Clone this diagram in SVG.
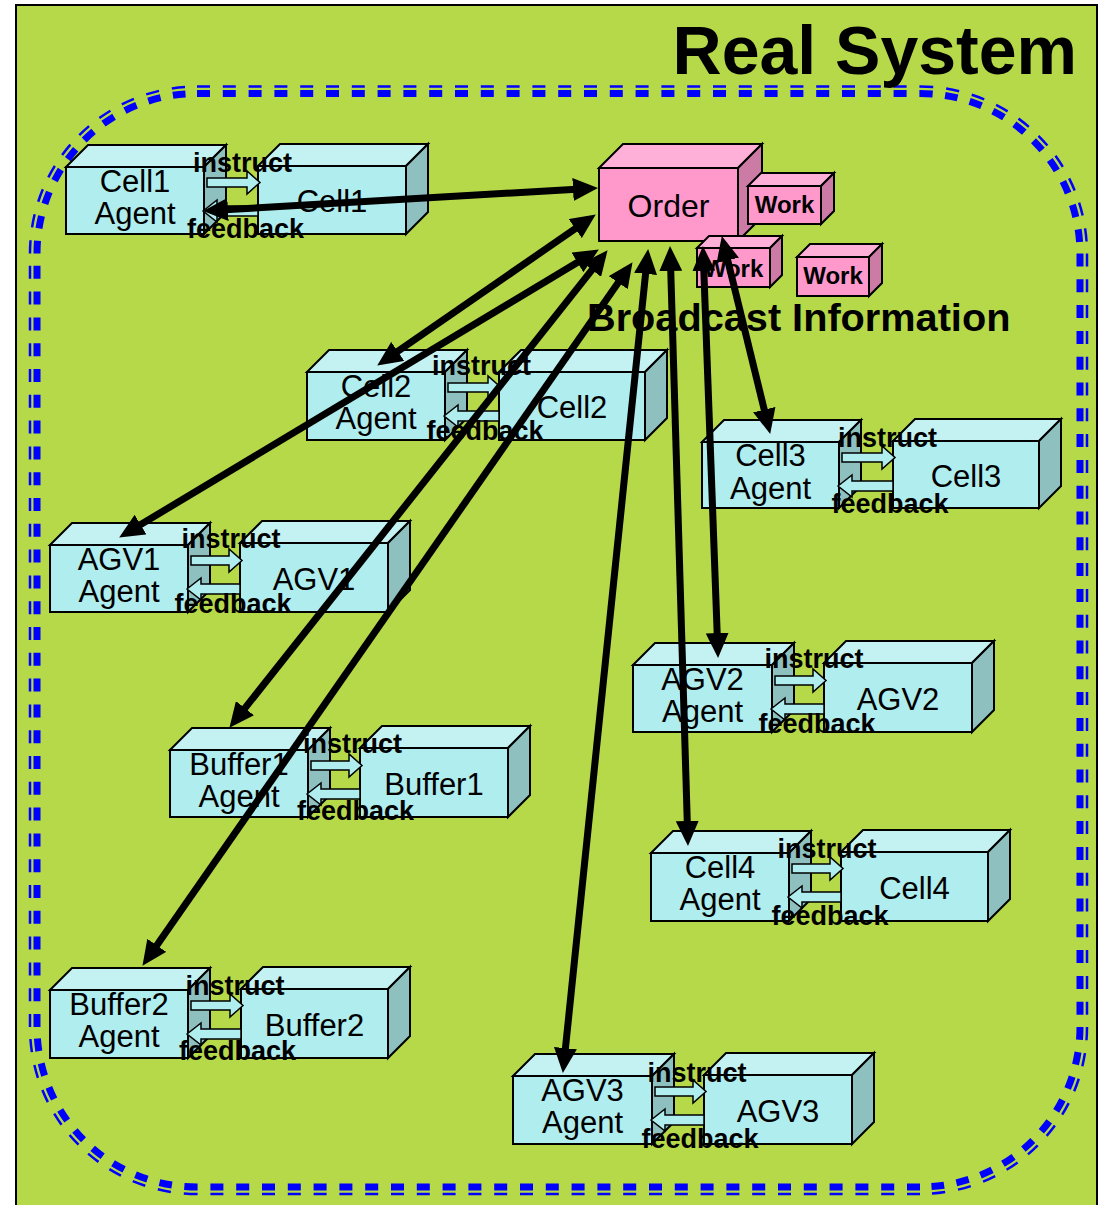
<svg xmlns="http://www.w3.org/2000/svg" width="1104" height="1205" viewBox="0 0 1104 1205">
<style>
.bg{fill:#B6D94A;stroke:#000;stroke-width:2}
.dk{fill:none;stroke:#0000FF;stroke-width:7;stroke-dasharray:13 12.8}
.dn{fill:none;stroke:#0000FF;stroke-width:2.5;stroke-dasharray:13 12.8}
.f{fill:#AFEDEE;stroke:#000;stroke-width:2}
.t{fill:#C4F2F3;stroke:#000;stroke-width:2}
.s{fill:#8EC0BF;stroke:#000;stroke-width:2}
.pf{fill:#FF99CC;stroke:#000;stroke-width:2}
.pt{fill:#FFB0D8;stroke:#000;stroke-width:2}
.ps{fill:#CC7BA4;stroke:#000;stroke-width:2}
.sa{fill:#AFEDEE;stroke:#000;stroke-width:1.5}
text{font-family:"Liberation Sans",Arial,sans-serif;fill:#000}
.lb{font-size:31px;text-anchor:middle}
.io{font-size:27px;font-weight:bold;text-anchor:middle}
.wk{font-size:24px;font-weight:bold;text-anchor:middle}
.conn{fill:none;stroke:#000;stroke-width:7;marker-start:url(#ah);marker-end:url(#ah)}
</style>
<defs>
<marker id="ah" viewBox="0 0 25 23" refX="12" refY="11.5" markerWidth="25" markerHeight="23" markerUnits="userSpaceOnUse" orient="auto-start-reverse">
<path d="M0,0 L25,11.5 L0,23 z" fill="#000"/>
</marker>
</defs>
<rect x="0" y="0" width="1104" height="1205" fill="#fff"/>
<rect class="bg" x="16" y="5" width="1081" height="1215"/>
<g id="boundary">
<path class="dk" d="M197,93.5 L920,93.5"/>
<path class="dk" d="M920,93.5 A160,160 0 0 1 1080,253.5" pathLength="257"/>
<path class="dk" d="M1080,253.5 L1080,1027"/>
<path class="dk" d="M1080,1027 A160,160 0 0 1 920,1187" pathLength="257"/>
<path class="dk" d="M920,1187 L197,1187"/>
<path class="dk" d="M197,1187 A160,160 0 0 1 37,1027" pathLength="257"/>
<path class="dk" d="M37,1027 L37,253.5"/>
<path class="dk" d="M37,253.5 A160,160 0 0 1 197,93.5" pathLength="257"/>
<path class="dn" d="M197,86.5 L920,86.5"/>
<path class="dn" d="M920,86.5 A167,167 0 0 1 1087,253.5" pathLength="257"/>
<path class="dn" d="M1087,253.5 L1087,1027"/>
<path class="dn" d="M1087,1027 A167,167 0 0 1 920,1194" pathLength="257"/>
<path class="dn" d="M920,1194 L197,1194"/>
<path class="dn" d="M197,1194 A167,167 0 0 1 30,1027" pathLength="257"/>
<path class="dn" d="M30,1027 L30,253.5"/>
<path class="dn" d="M30,253.5 A167,167 0 0 1 197,86.5" pathLength="257"/>
</g>
<text x="1077" y="74" style="font-size:68px;font-weight:bold;text-anchor:end">Real System</text>

<g id="order">
<polygon class="pt" points="599,168 623,144 762,144 738,168"/>
<polygon class="ps" points="738,168 762,144 762,217 738,241"/>
<rect class="pf" x="599" y="168" width="139" height="73"/>
<text class="lb" x="668.5" y="217" style="font-size:32px">Order</text>
</g>
<g id="work1">
<polygon class="pt" points="748,186 761,173 834,173 821,186"/>
<polygon class="ps" points="821,186 834,173 834,211 821,224"/>
<rect class="pf" x="748" y="186" width="73" height="38"/>
<text class="wk" x="784.5" y="213">Work</text>
</g>
<g id="work2">
<polygon class="pt" points="697,248 709,236 782,236 770,248"/>
<polygon class="ps" points="770,248 782,236 782,275 770,287"/>
<rect class="pf" x="697" y="248" width="73" height="39"/>
<text class="wk" x="733.5" y="277">Work</text>
</g>
<g id="work3">
<polygon class="pt" points="797,257 810,244 882,244 869,257"/>
<polygon class="ps" points="869,257 882,244 882,283 869,296"/>
<rect class="pf" x="797" y="257" width="72" height="39"/>
<text class="wk" x="833" y="284">Work</text>
</g>
<text x="587" y="331" style="font-size:39.7px;font-weight:bold">Broadcast Information</text>

<!-- Cell1 -->
<g id="cell1-agent">
<polygon class="t" points="66,167 88,145 226,145 204,167"/>
<polygon class="s" points="204,167 226,145 226,212 204,234"/>
<rect class="f" x="66" y="167" width="138" height="67"/>
<text class="lb" x="135" y="192">Cell1</text>
<text class="lb" x="135" y="224">Agent</text>
</g>
<g id="cell1">
<polygon class="t" points="258,166 280,144 428,144 406,166"/>
<polygon class="s" points="406,166 428,144 428,212 406,234"/>
<rect class="f" x="258" y="166" width="148" height="68"/>
<text class="lb" x="332" y="212">Cell1</text>
</g>
<g id="cell1-io">
<polygon class="sa" points="207,178 247,178 247,171 260,182.5 247,194 247,187 207,187"/>
<polygon class="sa" points="203,211 217,200 217,206 258,206 258,216 217,216 217,222"/>
<text class="io" x="242.5" y="172">instruct</text>
<text class="io" x="245.5" y="238">feedback</text>
</g>

<!-- Cell2 -->
<g id="cell2-agent">
<polygon class="t" points="307,372 329,350 467,350 445,372"/>
<polygon class="s" points="445,372 467,350 467,418 445,440"/>
<rect class="f" x="307" y="372" width="138" height="68"/>
<text class="lb" x="376" y="397">Cell2</text>
<text class="lb" x="376" y="429">Agent</text>
</g>
<g id="cell2">
<polygon class="t" points="499,372 521,350 667,350 645,372"/>
<polygon class="s" points="645,372 667,350 667,418 645,440"/>
<rect class="f" x="499" y="372" width="146" height="68"/>
<text class="lb" x="572" y="418">Cell2</text>
</g>
<g id="cell2-io">
<polygon class="sa" points="448,383 488,383 488,376 501,387.5 488,399 488,392 448,392"/>
<polygon class="sa" points="444,416 458,405 458,411 499,411 499,421 458,421 458,427"/>
<text class="io" x="481.5" y="375">instruct</text>
<text class="io" x="485" y="440">feedback</text>
</g>

<!-- Cell3 -->
<g id="cell3-agent">
<polygon class="t" points="702,442 724,420 861,420 839,442"/>
<polygon class="s" points="839,442 861,420 861,486 839,508"/>
<rect class="f" x="702" y="442" width="137" height="66"/>
<text class="lb" x="770.5" y="466">Cell3</text>
<text class="lb" x="770.5" y="499">Agent</text>
</g>
<g id="cell3">
<polygon class="t" points="893,441 915,419 1061,419 1039,441"/>
<polygon class="s" points="1039,441 1061,419 1061,486 1039,508"/>
<rect class="f" x="893" y="441" width="146" height="67"/>
<text class="lb" x="966" y="487">Cell3</text>
</g>
<g id="cell3-io">
<polygon class="sa" points="842,453 882,453 882,446 895,457.5 882,469 882,462 842,462"/>
<polygon class="sa" points="838,486 852,475 852,481 893,481 893,491 852,491 852,497"/>
<text class="io" x="887.5" y="447">instruct</text>
<text class="io" x="890" y="513">feedback</text>
</g>

<!-- AGV1 -->
<g id="agv1-agent">
<polygon class="t" points="50,545 72,523 210,523 188,545"/>
<polygon class="s" points="188,545 210,523 210,590 188,612"/>
<rect class="f" x="50" y="545" width="138" height="67"/>
<text class="lb" x="119" y="570">AGV1</text>
<text class="lb" x="119" y="602">Agent</text>
</g>
<g id="agv1">
<polygon class="t" points="240,543 262,521 410,521 388,543"/>
<polygon class="s" points="388,543 410,521 410,590 388,612"/>
<rect class="f" x="240" y="543" width="148" height="69"/>
<text class="lb" x="314" y="590">AGV1</text>
</g>
<g id="agv1-io">
<polygon class="sa" points="191,556 229,556 229,549 242,560.5 229,572 229,565 191,565"/>
<polygon class="sa" points="187,589 201,578 201,584 240,584 240,594 201,594 201,600"/>
<text class="io" x="231" y="548">instruct</text>
<text class="io" x="233" y="613">feedback</text>
</g>

<!-- AGV2 -->
<g id="agv2-agent">
<polygon class="t" points="633,665 655,643 794,643 772,665"/>
<polygon class="s" points="772,665 794,643 794,710 772,732"/>
<rect class="f" x="633" y="665" width="139" height="67"/>
<text class="lb" x="702.5" y="690">AGV2</text>
<text class="lb" x="702.5" y="722">Agent</text>
</g>
<g id="agv2">
<polygon class="t" points="824,663 846,641 994,641 972,663"/>
<polygon class="s" points="972,663 994,641 994,710 972,732"/>
<rect class="f" x="824" y="663" width="148" height="69"/>
<text class="lb" x="898" y="710">AGV2</text>
</g>
<g id="agv2-io">
<polygon class="sa" points="775,676 813,676 813,669 826,680.5 813,692 813,685 775,685"/>
<polygon class="sa" points="771,709 785,698 785,704 824,704 824,714 785,714 785,720"/>
<text class="io" x="814" y="668">instruct</text>
<text class="io" x="817" y="733">feedback</text>
</g>

<!-- Buffer1 -->
<g id="buffer1-agent">
<polygon class="t" points="170,750 192,728 330,728 308,750"/>
<polygon class="s" points="308,750 330,728 330,795 308,817"/>
<rect class="f" x="170" y="750" width="138" height="67"/>
<text class="lb" x="239" y="775">Buffer1</text>
<text class="lb" x="239" y="807">Agent</text>
</g>
<g id="buffer1">
<polygon class="t" points="360,748 382,726 530,726 508,748"/>
<polygon class="s" points="508,748 530,726 530,795 508,817"/>
<rect class="f" x="360" y="748" width="148" height="69"/>
<text class="lb" x="434" y="795">Buffer1</text>
</g>
<g id="buffer1-io">
<polygon class="sa" points="311,761 349,761 349,754 362,765.5 349,777 349,770 311,770"/>
<polygon class="sa" points="307,794 321,783 321,789 360,789 360,799 321,799 321,805"/>
<text class="io" x="352.5" y="753">instruct</text>
<text class="io" x="355.5" y="820">feedback</text>
</g>

<!-- Cell4 -->
<g id="cell4-agent">
<polygon class="t" points="651,853 673,831 811,831 789,853"/>
<polygon class="s" points="789,853 811,831 811,899 789,921"/>
<rect class="f" x="651" y="853" width="138" height="68"/>
<text class="lb" x="720" y="878">Cell4</text>
<text class="lb" x="720" y="910">Agent</text>
</g>
<g id="cell4">
<polygon class="t" points="841,852 863,830 1010,830 988,852"/>
<polygon class="s" points="988,852 1010,830 1010,899 988,921"/>
<rect class="f" x="841" y="852" width="147" height="69"/>
<text class="lb" x="914.5" y="899">Cell4</text>
</g>
<g id="cell4-io">
<polygon class="sa" points="792,864 830,864 830,857 843,868.5 830,880 830,873 792,873"/>
<polygon class="sa" points="788,897 802,886 802,892 841,892 841,902 802,902 802,908"/>
<text class="io" x="827" y="858">instruct</text>
<text class="io" x="830" y="925">feedback</text>
</g>

<!-- Buffer2 -->
<g id="buffer2-agent">
<polygon class="t" points="50,990 72,968 210,968 188,990"/>
<polygon class="s" points="188,990 210,968 210,1036 188,1058"/>
<rect class="f" x="50" y="990" width="138" height="68"/>
<text class="lb" x="119" y="1015">Buffer2</text>
<text class="lb" x="119" y="1047">Agent</text>
</g>
<g id="buffer2">
<polygon class="t" points="241,989 263,967 410,967 388,989"/>
<polygon class="s" points="388,989 410,967 410,1036 388,1058"/>
<rect class="f" x="241" y="989" width="147" height="69"/>
<text class="lb" x="314.5" y="1036">Buffer2</text>
</g>
<g id="buffer2-io">
<polygon class="sa" points="191,1001 230,1001 230,994 243,1005.5 230,1017 230,1010 191,1010"/>
<polygon class="sa" points="187,1034 201,1023 201,1029 241,1029 241,1039 201,1039 201,1045"/>
<text class="io" x="235" y="995">instruct</text>
<text class="io" x="237.5" y="1060">feedback</text>
</g>

<!-- AGV3 -->
<g id="agv3-agent">
<polygon class="t" points="513,1076 535,1054 674,1054 652,1076"/>
<polygon class="s" points="652,1076 674,1054 674,1122 652,1144"/>
<rect class="f" x="513" y="1076" width="139" height="68"/>
<text class="lb" x="582.5" y="1101">AGV3</text>
<text class="lb" x="582.5" y="1133">Agent</text>
</g>
<g id="agv3">
<polygon class="t" points="704,1075 726,1053 874,1053 852,1075"/>
<polygon class="s" points="852,1075 874,1053 874,1122 852,1144"/>
<rect class="f" x="704" y="1075" width="148" height="69"/>
<text class="lb" x="778" y="1122">AGV3</text>
</g>
<g id="agv3-io">
<polygon class="sa" points="655,1087 693,1087 693,1080 706,1091.5 693,1103 693,1096 655,1096"/>
<polygon class="sa" points="651,1120 665,1109 665,1115 704,1115 704,1125 665,1125 665,1131"/>
<text class="io" x="697" y="1082">instruct</text>
<text class="io" x="700" y="1148">feedback</text>
</g>

<g id="connectors">
<line class="conn" x1="585" y1="188.7" x2="216" y2="210.3"/>
<line class="conn" x1="585.1" y1="221.8" x2="387.9" y2="358.2"/>
<line class="conn" x1="587.7" y1="256.2" x2="130.3" y2="530.8"/>
<line class="conn" x1="599.5" y1="260.4" x2="237.5" y2="717.6"/>
<line class="conn" x1="625.1" y1="272.8" x2="149.9" y2="955.2"/>
<line class="conn" x1="646.8" y1="261.9" x2="564.2" y2="1060.1"/>
<line class="conn" x1="670.4" y1="259" x2="687.6" y2="833"/>
<line class="conn" x1="703.4" y1="259" x2="717.6" y2="645"/>
<line class="conn" x1="724.9" y1="248.7" x2="767.1" y2="421.3"/>
</g>
</svg>
